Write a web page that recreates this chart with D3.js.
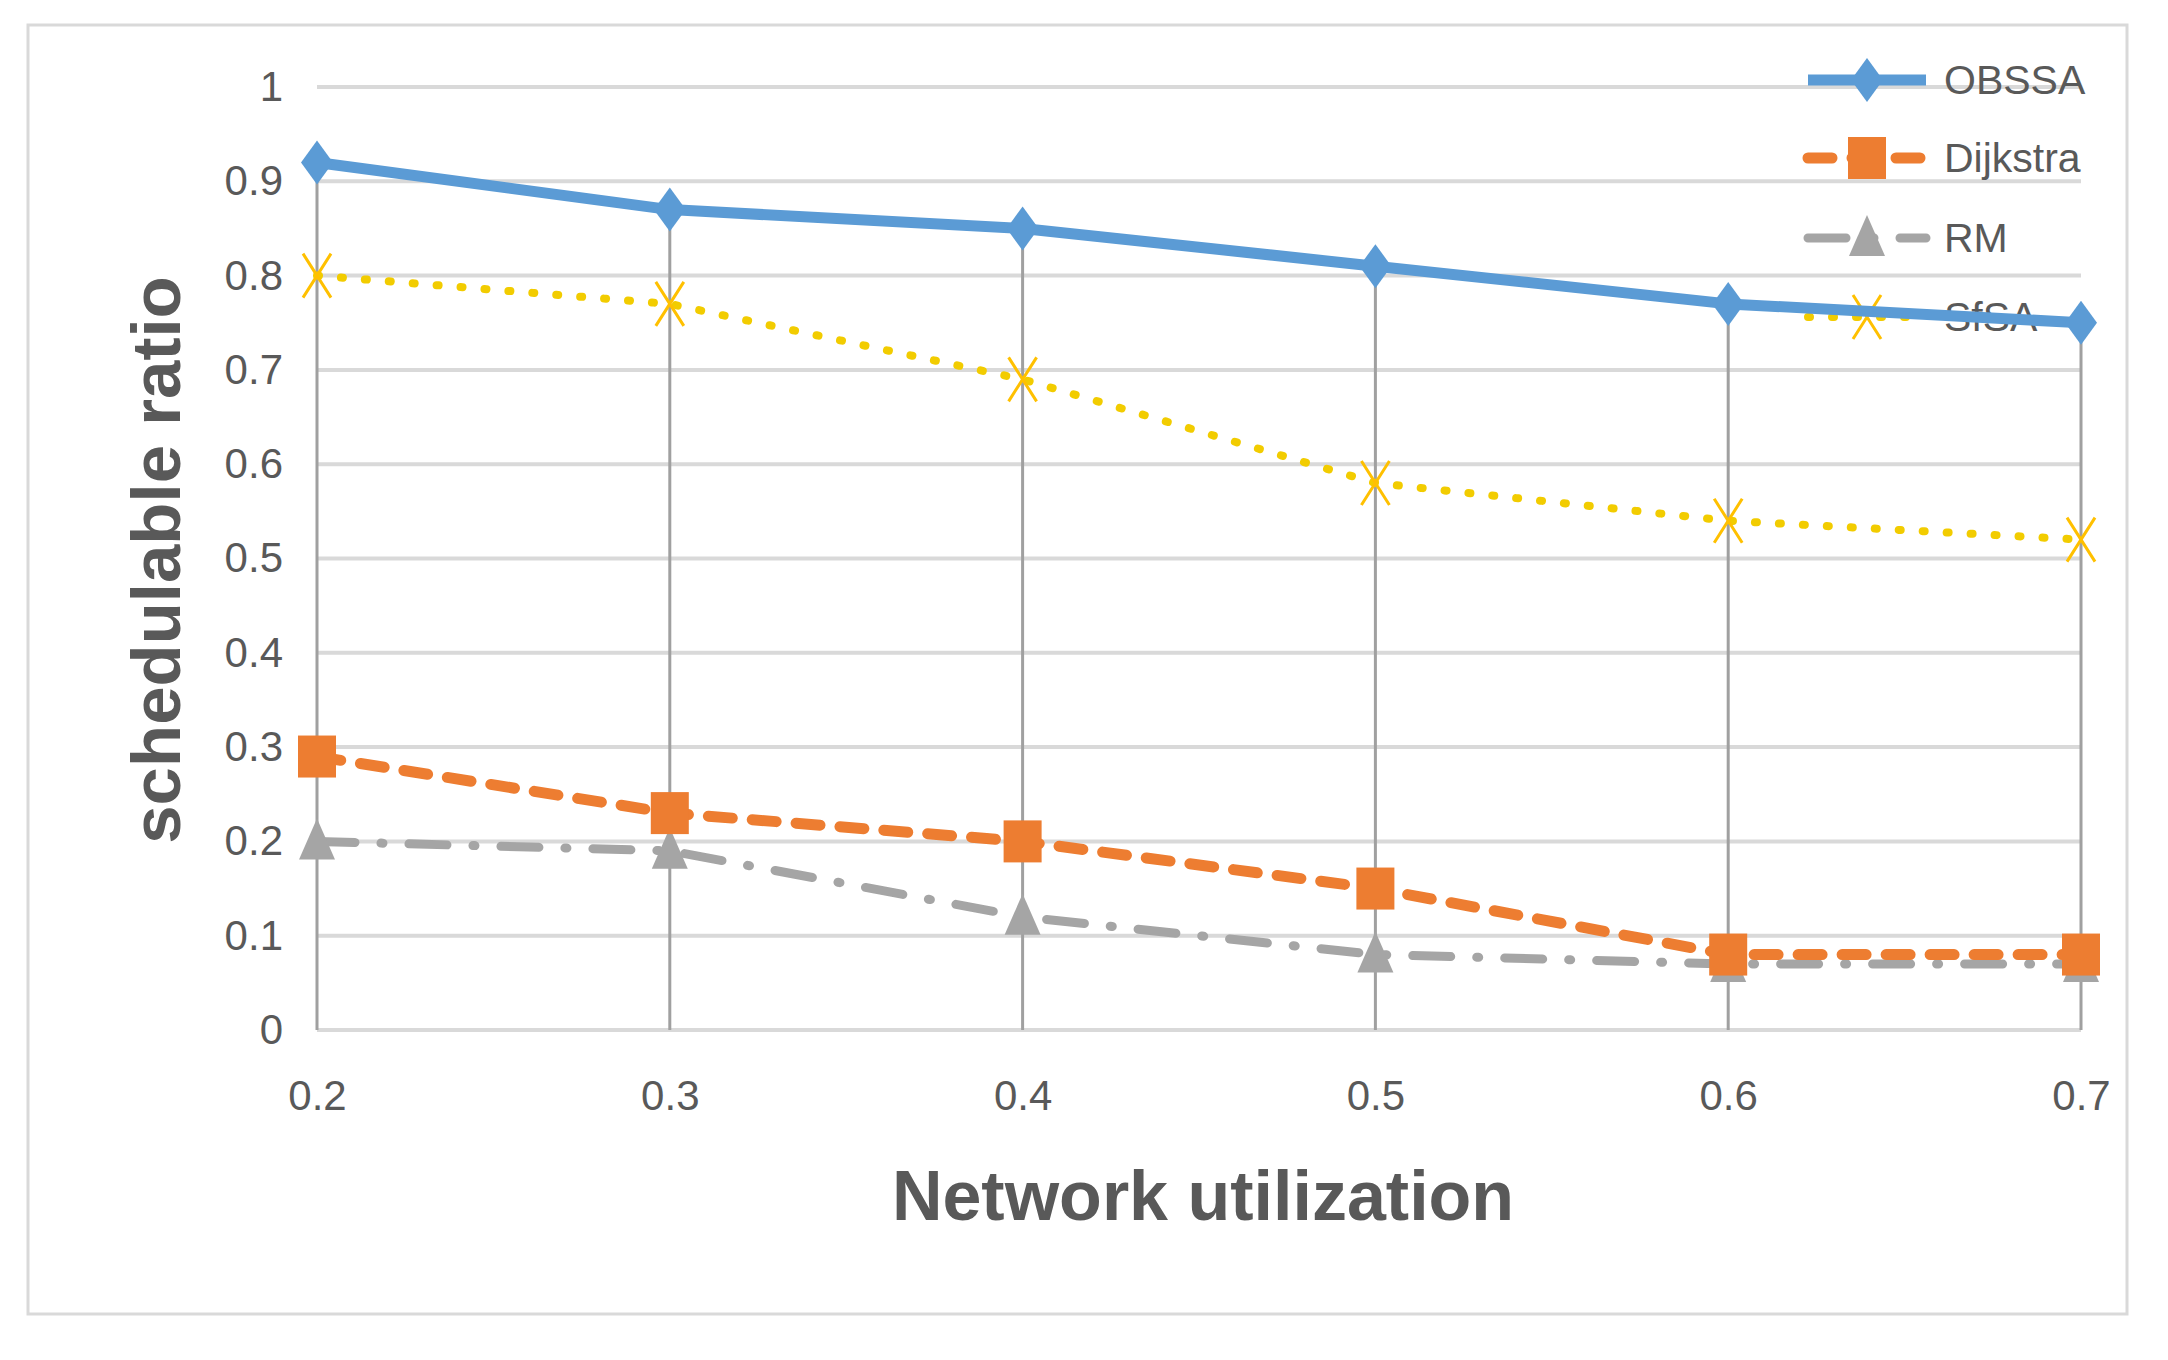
<!DOCTYPE html>
<html>
<head>
<meta charset="utf-8">
<script src="https://cdn.jsdelivr.net/npm/d3@7"></script>
<style>
  body { margin: 0; background: #fff; }
  text { font-family: "Liberation Sans", Arial, sans-serif; fill: #595959; }
</style>
</head>
<body>
<script>
// chart data
var xValues = [0.2, 0.3, 0.4, 0.5, 0.6, 0.7];
var obssa = [0.92, 0.87, 0.85, 0.81, 0.77, 0.75];
var dijkstra = [0.29, 0.23, 0.20, 0.15, 0.08, 0.08];
var rm = [0.20, 0.19, 0.12, 0.08, 0.07, 0.07];
var sfsa = [0.80, 0.77, 0.69, 0.58, 0.54, 0.52];
var yTicks = [0, 0.1, 0.2, 0.3, 0.4, 0.5, 0.6, 0.7, 0.8, 0.9, 1];
var seriesNames = ["OBSSA", "Dijkstra", "RM", "SfSA"];

var W = 2168, H = 1360;

var svg = d3.select("body")
  .append("svg")
    .attr("width", W)
    .attr("height", H);

svg.append("rect").attr("width", W).attr("height", H).attr("fill", "#fff");

// outer chart frame
svg.append("rect")
  .attr("x", 28).attr("y", 25)
  .attr("width", 2099).attr("height", 1289)
  .attr("fill", "none")
  .attr("stroke", "#d9d9d9")
  .attr("stroke-width", 3);

var xScale = d3.scaleLinear().domain([0.2, 0.7]).range([317, 2081]);
var yScale = d3.scaleLinear().domain([0, 1]).range([1030, 87]);

// horizontal gridlines
svg.append("g")
  .selectAll("line")
  .data(yTicks)
  .enter()
  .append("line")
    .attr("x1", xScale(0.2))
    .attr("x2", xScale(0.7))
    .attr("y1", function(d) { return yScale(d); })
    .attr("y2", function(d) { return yScale(d); })
    .attr("stroke", "#d9d9d9")
    .attr("stroke-width", 4);

// y axis labels
var yAxis = d3.axisLeft(yScale)
  .tickValues(yTicks)
  .tickSize(0)
  .tickPadding(34)
  .tickFormat(function(d) { return d3.format("")(+d.toFixed(1)); });

svg.append("g")
  .attr("transform", "translate(" + xScale(0.2) + ",0)")
  .call(yAxis)
  .call(function(g) { g.select(".domain").remove(); })
  .selectAll("text")
    .style("font-size", "42px")
    .style("font-family", "'Liberation Sans', Arial, sans-serif")
    .attr("fill", "#595959");

// x axis labels
var xAxis = d3.axisBottom(xScale)
  .tickValues(xValues)
  .tickSize(0)
  .tickPadding(50)
  .tickFormat(d3.format(".1f"));

svg.append("g")
  .attr("transform", "translate(0," + yScale(0) + ")")
  .call(xAxis)
  .call(function(g) { g.select(".domain").remove(); })
  .selectAll("text")
    .style("font-size", "42px")
    .style("font-family", "'Liberation Sans', Arial, sans-serif")
    .attr("fill", "#595959");

// drop lines from the top series down to the axis
var tops = xValues.map(function(x, i) {
  return {x: x, top: d3.max([obssa[i], dijkstra[i], rm[i], sfsa[i]])};
});
svg.append("g")
  .selectAll("line")
  .data(tops)
  .enter()
  .append("line")
    .attr("x1", function(d) { return xScale(d.x); })
    .attr("x2", function(d) { return xScale(d.x); })
    .attr("y1", yScale(0))
    .attr("y2", function(d) { return yScale(d.top); })
    .attr("stroke", "#a0a0a0")
    .attr("stroke-width", 3);

// axis titles
svg.append("text")
  .attr("x", 1203).attr("y", 1220)
  .attr("text-anchor", "middle")
  .style("font-size", "70px")
  .style("font-weight", "bold")
  .text("Network utilization");

svg.append("text")
  .attr("transform", "translate(180,560) rotate(-90)")
  .attr("text-anchor", "middle")
  .style("font-size", "69px")
  .style("font-weight", "bold")
  .text("schedulable ratio");

// series styles
var styles = {
  OBSSA:    {values: obssa,    color: "#5b9bd5", width: 11, dash: null,         marker: "diamond"},
  Dijkstra: {values: dijkstra, color: "#ed7d31", width: 11, dash: "24 20",      marker: "square"},
  RM:       {values: rm,       color: "#a5a5a5", width: 9,  dash: "38 26 2 26", marker: "triangle"},
  SfSA:     {values: sfsa,     color: "#f2cc00", width: 8,  dash: "2 22",       marker: "cross"}
};

function drawMarker(g, type, color) {
  if (type === "diamond") {
    g.append("path").attr("d", "M0,-22L16,0L0,22L-16,0Z").attr("fill", color);
  } else if (type === "square") {
    g.append("rect").attr("x", -19).attr("y", -21).attr("width", 38).attr("height", 42).attr("fill", color);
  } else if (type === "triangle") {
    g.append("path").attr("d", "M0,-23L18,18L-18,18Z").attr("fill", color);
  } else {
    g.append("path").attr("d", "M-14,-22L14,22M14,-22L-14,22")
      .attr("stroke", "#ffc000").attr("stroke-width", 3).attr("fill", "none");
  }
}

// legend
var legendRows = [80, 158, 238, 317];
seriesNames.forEach(function(name, i) {
  var s = styles[name];
  var g = svg.append("g").attr("transform", "translate(0," + legendRows[i] + ")");
  g.append("line")
    .attr("x1", 1808).attr("x2", 1926)
    .attr("stroke", s.color)
    .attr("stroke-width", s.width)
    .attr("stroke-dasharray", s.dash)
    .attr("stroke-linecap", s.dash ? "round" : "butt");
  drawMarker(g.append("g").attr("transform", "translate(1867,0)"), s.marker, s.color);
  g.append("text")
    .attr("x", 1944).attr("y", 14)
    .style("font-size", "41px")
    .text(name);
});

// series lines
var line = d3.line()
  .x(function(d) { return xScale(d[0]); })
  .y(function(d) { return yScale(d[1]); });

["RM", "Dijkstra", "SfSA", "OBSSA"].forEach(function(name) {
  var s = styles[name];
  var pts = xValues.map(function(x, i) { return [x, s.values[i]]; });
  svg.append("path")
    .datum(pts)
    .attr("d", line)
    .attr("fill", "none")
    .attr("stroke", s.color)
    .attr("stroke-width", s.width)
    .attr("stroke-dasharray", s.dash)
    .attr("stroke-linecap", s.dash ? "round" : "butt")
    .attr("stroke-linejoin", "round");
  svg.append("g")
    .selectAll("g")
    .data(pts)
    .enter()
    .append("g")
      .attr("transform", function(d) { return "translate(" + xScale(d[0]) + "," + yScale(d[1]) + ")"; })
      .each(function() { drawMarker(d3.select(this), s.marker, s.color); });
});
</script>
</body>
</html>
